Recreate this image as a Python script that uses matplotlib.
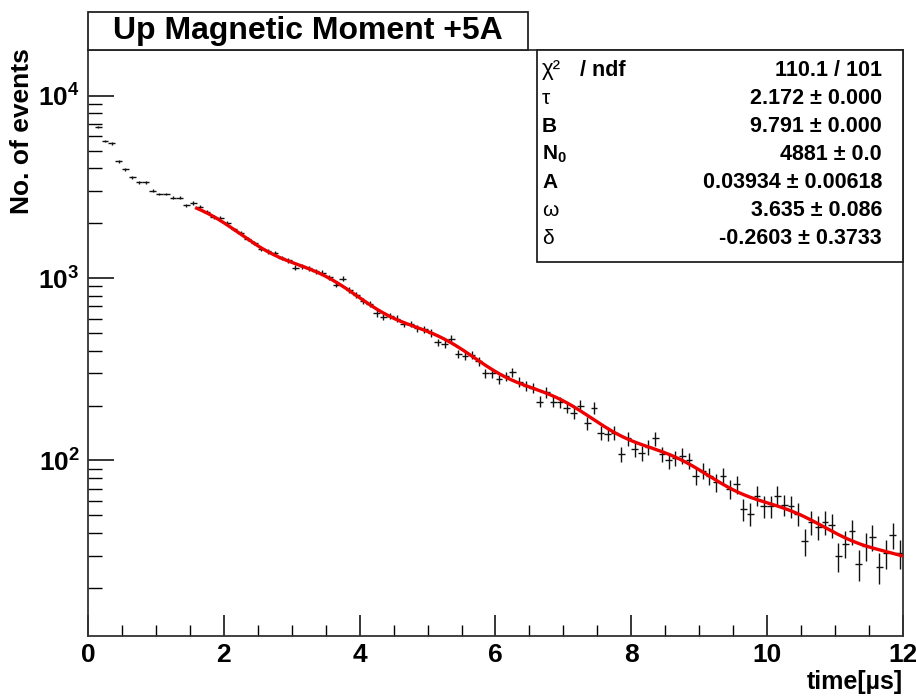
import numpy as np
import matplotlib
matplotlib.use('Agg')
import matplotlib.pyplot as plt
from matplotlib.patches import Rectangle
from matplotlib.ticker import LogLocator, FuncFormatter, MultipleLocator, NullFormatter

plt.rcParams['font.family'] = ['Liberation Sans', 'DejaVu Sans']
plt.rcParams['mathtext.fontset'] = 'custom'
plt.rcParams['mathtext.rm'] = 'Liberation Sans'
plt.rcParams['mathtext.it'] = 'Liberation Sans:italic'
plt.rcParams['mathtext.bf'] = 'Liberation Sans:bold'

# histogramme (pas de 0.1 us), contenu
bin_width = 0.1
counts_early = [6700, 5650, 5470, 4360, 3950, 3560, 3350, 3350, 3010, 2890,
                2890, 2750, 2750, 2500, 2580]
counts_fit = [2460, 2310, 2160, 2140, 2000, 1850, 1760, 1640, 1560, 1450,
              1400, 1370, 1290, 1250, 1140, 1160, 1130, 1090, 1070, 1010,
              920, 990, 860, 810, 750, 720, 640, 610, 620, 600,
              560, 560, 530, 525, 500, 445, 435, 465, 385, 375,
              380, 350, 300, 300, 278, 290, 305, 270, 255, 250,
              210, 236, 210, 208, 195, 182, 200, 160, 194, 142,
              140, 142, 108, 132, 115, 110, 118, 132, 108, 100,
              103, 106, 100, 82, 88, 82, 76, 82, 70, 74,
              54, 51, 64, 56, 56, 64, 57, 56, 51, 36,
              46, 43, 46, 44, 30, 35, 41, 27, 34, 38,
              26, 31, 39, 31]
counts = np.array(counts_early + counts_fit, dtype=float)
t = 0.15 + bin_width * np.arange(len(counts))

# paramètres de l'ajustement (boîte de stats)
tau, B, N0, A, omega, delta = 2.172, 9.791, 4881, 0.03934, 3.635, -0.2603
fit_range = (1.6, 12.0)

W, H = 916, 696
fig = plt.figure(figsize=(W / 100, H / 100), dpi=100)

def fx(px):
    return px / W

def fy(py):
    return 1 - py / H

ax = fig.add_axes([fx(88), fy(636), fx(903) - fx(88), fy(50) - fy(636)])

ax.errorbar(t, counts, xerr=bin_width / 2, yerr=np.sqrt(counts), fmt='none',
            ecolor='#111111', elinewidth=1.0, capsize=0)

tf = np.linspace(fit_range[0], fit_range[1], 500)
f = N0 * np.exp(-tf / tau) * (1 + A * np.cos(omega * tf + delta)) + B
ax.plot(tf, f, color='#ee0000', lw=2.4, zorder=5)

ax.set_yscale('log')
ax.set_xlim(0, 12)
ax.set_ylim(10.9, 17800)

ax.xaxis.set_major_locator(MultipleLocator(2))
ax.xaxis.set_minor_locator(MultipleLocator(0.5))
ax.yaxis.set_major_locator(LogLocator(base=10))
ax.yaxis.set_minor_locator(LogLocator(base=10, subs=np.arange(2, 10)))
ax.yaxis.set_minor_formatter(NullFormatter())
ax.yaxis.set_major_formatter(FuncFormatter(lambda v, p: r'$\mathbf{10^{%d}}$' % round(np.log10(v))))

ax.tick_params(axis='x', which='major', direction='in', length=15, width=1.1, pad=5,
               labelsize=19, top=False)
ax.tick_params(axis='x', which='minor', direction='in', length=8, width=1.0, top=False)
ax.tick_params(axis='y', which='major', direction='in', length=19, width=1.1, pad=6,
               labelsize=19, right=False)
ax.tick_params(axis='y', which='minor', direction='in', length=10, width=1.0, right=False)
for lab in ax.get_xticklabels():
    lab.set_fontweight('bold')

for sp in ax.spines.values():
    sp.set_linewidth(1.3)
    sp.set_color('#333333')

# titres des axes
fig.text(fx(22), fy(48), 'No. of events', rotation=90, ha='center', va='top',
         fontsize=19, fontweight='bold')
fig.text(fx(903), fy(682), 'time[µs]', ha='right', va='center',
         fontsize=18, fontweight='bold')

# titre
fig.add_artist(Rectangle((fx(88), fy(50)), fx(528) - fx(88), fy(12) - fy(50),
                         transform=fig.transFigure, facecolor='white',
                         edgecolor='#222222', lw=1.3))
fig.text(fx(308), fy(31), 'Up Magnetic Moment +5A', ha='center', va='center',
         fontsize=23, fontweight='bold')

# boîte de stats
fig.add_artist(Rectangle((fx(537), fy(262)), fx(903) - fx(537), fy(50) - fy(262),
                         transform=fig.transFigure, facecolor='white',
                         edgecolor='#222222', lw=1.3))
stat_labels = ['χ²', 'τ', 'B', r'$\mathbf{N_{0}}$', 'A', 'ω', 'δ']
stat_bold = [False, False, True, True, True, False, False]
stat_values = ['110.1 / 101', '2.172 ± 0.000', '9.791 ± 0.000', '4881 ± 0.0',
               '0.03934 ± 0.00618', '3.635 ± 0.086', '-0.2603 ± 0.3733']
for i, (lab, bold, val) in enumerate(zip(stat_labels, stat_bold, stat_values)):
    y = fy(70 + 28 * i)
    fig.text(fx(542), y, lab, ha='left', va='center', fontsize=16 if i == 0 else 15,
             fontweight='bold' if bold else 'normal')
    fig.text(fx(882), y, val, ha='right', va='center', fontsize=15.5, fontweight='bold')
fig.text(fx(580), fy(70), '/ ndf', ha='left', va='center', fontsize=15.5, fontweight='bold')

fig.savefig('out.png', dpi=100)
